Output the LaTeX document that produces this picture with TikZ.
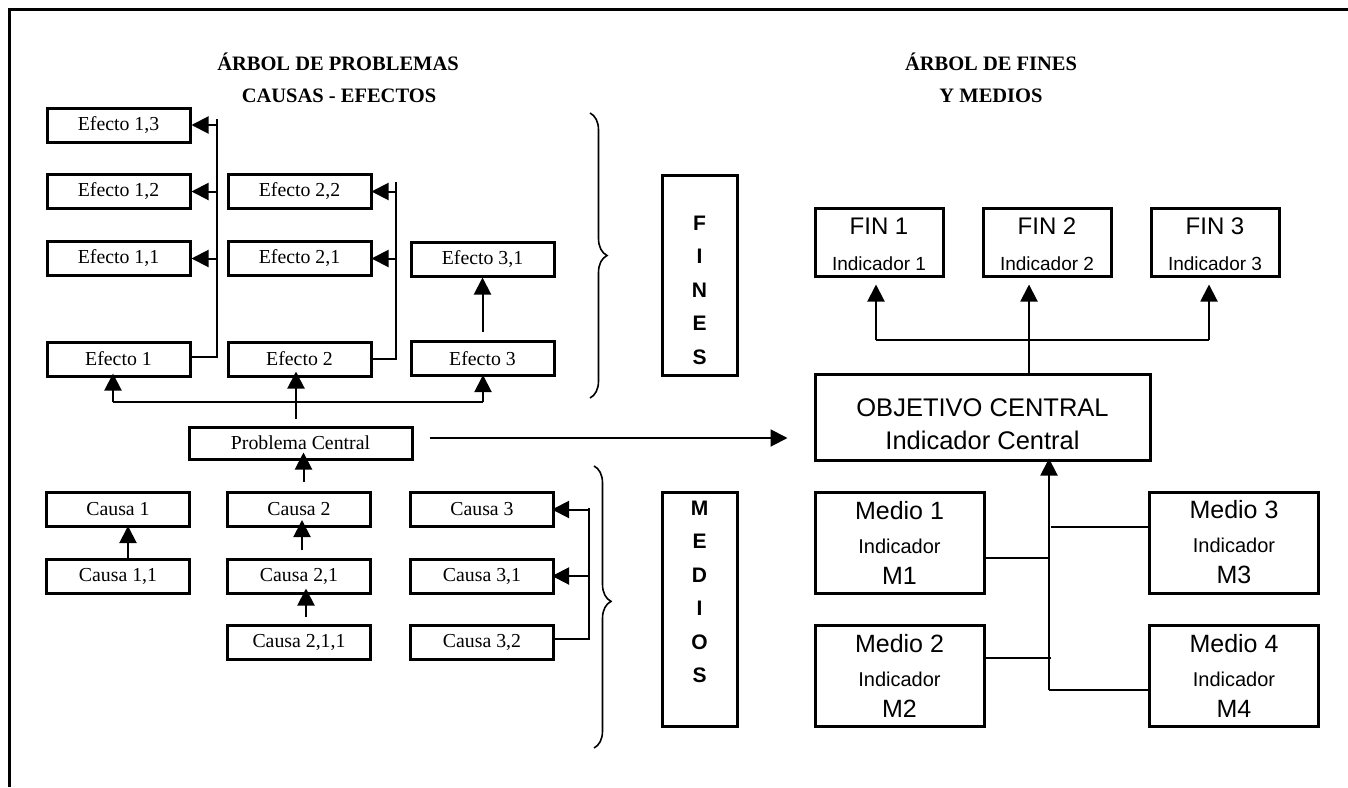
\documentclass[tikz,border=0pt]{standalone}
\usepackage{fontspec}
\setmainfont{Liberation Serif}
\newfontfamily\arialf{Liberation Sans}
\usetikzlibrary{arrows.meta,decorations.pathreplacing,calc}
\begin{document}
\begin{tikzpicture}[x=1pt,y=-1pt,
  lbox/.style={draw,line width=3pt,minimum width=143pt,minimum height=34pt,inner sep=0pt,font=\fontsize{19.8}{22}\selectfont},
  rbox/.style={draw,line width=3pt,inner sep=0pt,align=center},
  conn/.style={line width=2pt},
  arr/.style={line width=2pt,-{Triangle[length=17pt,width=17pt]}},
  ttl/.style={font=\fontsize{20.5}{24}\selectfont\bfseries,anchor=base},
  brc/.style={decorate,decoration={brace,amplitude=17pt},line width=1.6pt},
  vlet/.style={font=\arialf\bfseries\fontsize{21}{33.5}\selectfont,align=center,inner sep=0pt}
]
\useasboundingbox (0,0) rectangle (1348,787);
\draw[line width=3.5pt,line join=miter] (9.5,787) -- (9.5,9.5) -- (1348,9.5);

% titles
\node[ttl] (t1a) at (338,70) {ÁRBOL DE PROBLEMAS};
\node[ttl] (t1b) at (339,102) {CAUSAS - EFECTOS};
\node[ttl] (t2a) at (991,70) {ÁRBOL DE FINES};
\node[ttl] (t2b) at (991,102) {Y MEDIOS};

% effects
\node[lbox] (e13) at (118.5,125) {Efecto 1,3};
\node[lbox] (e12) at (118.5,191.5) {Efecto 1,2};
\node[lbox] (e11) at (118.5,258.5) {Efecto 1,1};
\node[lbox] (e1)  at (118.5,359) {Efecto 1};
\node[lbox] (e22) at (299.5,191.5) {Efecto 2,2};
\node[lbox] (e21) at (299.5,258.5) {Efecto 2,1};
\node[lbox] (e2)  at (299.5,359) {Efecto 2};
\node[lbox] (e31) at (482.5,259) {Efecto 3,1};
\node[lbox] (e3)  at (482.5,358.5) {Efecto 3};
\node[lbox,minimum width=223pt,minimum height=32pt] (pc) at (300.5,443) {Problema Central};
% causes
\node[lbox] (c1)   at (118,509.5) {Causa 1};
\node[lbox] (c2)   at (299,509.5) {Causa 2};
\node[lbox] (c3)   at (482,509.5) {Causa 3};
\node[lbox] (c11)  at (118,576) {Causa 1,1};
\node[lbox] (c21)  at (299,576) {Causa 2,1};
\node[lbox] (c31)  at (482,576) {Causa 3,1};
\node[lbox] (c211) at (299,642.5) {Causa 2,1,1};
\node[lbox] (c32)  at (482,642.5) {Causa 3,2};

% effect 1 branch
\coordinate (v1top) at (217,119);
\draw[conn] ([yshift=2pt]e1.east) -| (v1top);
\draw[arr] (e13.east -| v1top) -- (e13.east);
\draw[arr] (e12.east -| v1top) -- (e12.east);
\draw[arr] (e11.east -| v1top) -- (e11.east);
% effect 2 branch
\coordinate (v2top) at (396,182);
\draw[conn] (e2.east) -| (v2top);
\draw[arr,shorten >=-1pt] (e22.east -| v2top) -- (e22.east);
\draw[arr,shorten >=-1pt] (e21.east -| v2top) -- (e21.east);
% effect 3
\draw[arr,shorten <=8pt] (e3.north) -- (e31.south);

% central problem to effects
\coordinate (pcup) at ([xshift=-4.5pt]pc.north);
\coordinate (dl) at (113,402);
\coordinate (dr) at (483,402);
\draw[arr,shorten <=7pt,shorten >=-6pt] (pcup) -- (pcup |- e2.south);
\draw[conn] (dl) -- (dr);
\draw[arr,shorten >=-4pt] (dl) -- (dl |- e1.south);
\draw[arr,shorten >=-2pt] (dr) -- (dr |- e3.south);

% causes to central problem
\coordinate (a2) at ([xshift=4.5pt]c2.north);
\draw[arr,shorten <=9pt,shorten >=-8pt] (a2) -- (a2 |- pc.south);
\coordinate (a21) at ([xshift=3pt]c21.north);
\draw[arr,shorten <=8pt,shorten >=-8pt] (a21) -- (a21 |- c2.south);
\coordinate (a211) at ([xshift=7pt]c211.north);
\draw[arr,shorten <=7pt,shorten >=-6pt] (a211) -- (a211 |- c21.south);
\coordinate (a11) at ([xshift=10pt]c11.north);
\draw[arr,shorten >=-2pt] (a11) -- (a11 |- c1.south);
% cause 3 branch
\coordinate (v3top) at (589,508);
\draw[conn] ([yshift=3.5pt]c32.east) -| (v3top);
\draw[arr,shorten >=-3pt] (c3.east -| v3top) -- (c3.east);
\draw[arr,shorten >=-3pt] (c31.east -| v3top) -- (c31.east);

% braces
\draw[brc] (590,113) -- (590,398);
\draw[brc,decoration={aspect=0.48}] (594,466) -- (594,748);

% right side
\node[rbox,minimum width=75pt,minimum height=200pt] (fines) at (699.5,275) {};
\node[vlet] (finest) at (699.5,290) {F\\I\\N\\E\\S};
\node[rbox,minimum width=75pt,minimum height=234pt] (medios) at (699.5,609) {};
\node[vlet,font=\arialf\bfseries\fontsize{21}{33.5}\selectfont] (mediost) at (699.5,592) {M\\E\\D\\I\\O\\S};

\tikzset{finbox/.style={rbox,minimum width=128pt,minimum height=68pt,font=\arialf\fontsize{24}{36}\selectfont}}
\node[finbox] (f1) at (879,242) {\rule{0pt}{21pt}FIN 1\\{\fontsize{19}{36}\selectfont Indicador 1}};
\node[finbox] (f2) at (1047,242) {\rule{0pt}{21pt}FIN 2\\{\fontsize{19}{36}\selectfont Indicador 2}};
\node[finbox] (f3) at (1215,242) {\rule{0pt}{21pt}FIN 3\\{\fontsize{19}{36}\selectfont Indicador 3}};

\node[rbox,minimum width=335pt,minimum height=86pt,font=\arialf\fontsize{25.5}{33}\selectfont] (obj) at (982.5,417) {\rule{0pt}{32pt}OBJETIVO CENTRAL\\Indicador Central};

\tikzset{mbox/.style={rbox,minimum width=169pt,minimum height=101pt,font=\arialf\fontsize{25}{32}\selectfont}}
\node[mbox] (m1) at (899.5,542.5) {Medio 1\\[2pt]{\fontsize{20}{32}\selectfont Indicador}\\[-1pt]M1};
\node[mbox] (m2) at (899.5,675.5) {Medio 2\\[2pt]{\fontsize{20}{32}\selectfont Indicador}\\[-1pt]M2};
\node[mbox] (m3) at (1234,542.5) {Medio 3\\[2pt]{\fontsize{20}{32}\selectfont Indicador}\\[-1pt]M3};
\node[mbox] (m4) at (1234,675.5) {Medio 4\\[2pt]{\fontsize{20}{32}\selectfont Indicador}\\[-1pt]M4};

% problem -> objective
\coordinate (pcr) at ([yshift=5pt]pc.east);
\draw[arr,shorten <=16pt,shorten >=26pt] (pcr) -- (pcr -| obj.west);

% objective -> fins
\coordinate (o2) at (1029,340);
\coordinate (h1) at (876,340);
\coordinate (h3) at (1209,340);
\draw[arr,shorten >=7pt] (o2 |- obj.north) -- (o2 |- f2.south);
\draw[conn] (h1) -- (h3);
\draw[arr,shorten >=7pt] (h1) -- (h1 |- f1.south);
\draw[arr,shorten >=7pt] (h3) -- (h3 |- f3.south);

% means -> objective
\coordinate (vb) at (1049,690);
\draw[arr,shorten >=-3pt] (vb) -- (vb |- obj.south);
\draw[conn] (vb) -- (vb -| m4.west);
\coordinate (m1r) at ([yshift=-15.5pt]m1.east);
\draw[conn] (m1r) -- (m1r -| vb);
\coordinate (m3l) at ([yshift=15.5pt]m3.west);
\draw[conn] ([xshift=2pt]m3l -| vb) -- (m3l);
\coordinate (m2r) at ([yshift=17.5pt]m2.east);
\draw[conn] (m2r) -- ([xshift=2pt]m2r -| vb);
\end{tikzpicture}
\end{document}
